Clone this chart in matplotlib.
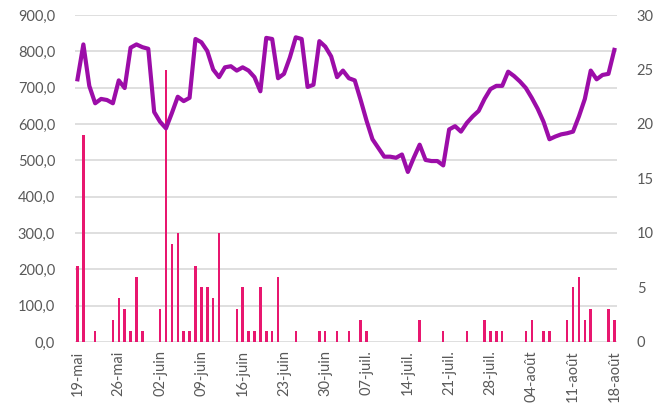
import matplotlib
matplotlib.use('Agg')
import matplotlib.pyplot as plt
import numpy as np
import pandas as pd
from matplotlib.ticker import FuncFormatter, MultipleLocator

plt.rcParams['font.family'] = ['Lato', 'DejaVu Sans']

# daily data, 19 May -> 18 Aug
dates = pd.date_range('2019-05-19', '2019-08-18', freq='D')

# precipitation (left axis), one row per week
rain = [
    210, 570, 0, 30, 0, 0, 60,
    120, 90, 30, 180, 30, 0, 0,
    90, 750, 270, 300, 30, 30, 210,
    150, 150, 120, 300, 0, 0, 90,
    150, 30, 30, 150, 30, 30, 180,
    0, 0, 30, 0, 0, 0, 30,
    30, 0, 30, 0, 30, 0, 60,
    30, 0, 0, 0, 0, 0, 0,
    0, 0, 60, 0, 0, 0, 30,
    0, 0, 0, 30, 0, 0, 60,
    30, 30, 30, 0, 0, 0, 30,
    60, 0, 30, 30, 0, 0, 60,
    150, 180, 60, 90, 0, 0, 90,
    60,
]

# temperature (right axis)
temp = [
    24.1, 27.3, 23.5, 21.9, 22.3, 22.2, 21.9,
    24.0, 23.3, 27.0, 27.3, 27.05, 26.9, 21.1,
    20.2, 19.6, 21.0, 22.5, 22.1, 22.4, 27.8,
    27.5, 26.7, 25.0, 24.3, 25.2, 25.3, 24.9,
    25.2, 24.9, 24.3, 23.0, 27.9, 27.8, 24.2,
    24.6, 26.1, 27.95, 27.8, 23.4, 23.6, 27.6,
    27.1, 26.2, 24.3, 24.9, 24.2, 24.0, 22.2,
    20.3, 18.6, 17.8, 17.0, 17.0, 16.9, 17.2,
    15.6, 16.9, 18.1, 16.7, 16.6, 16.6, 16.2,
    19.5, 19.8, 19.3, 20.1, 20.7, 21.2, 22.3,
    23.2, 23.5, 23.5, 24.8, 24.4, 23.9, 23.3,
    22.4, 21.4, 20.2, 18.6, 18.85, 19.05, 19.15,
    19.3, 20.7, 22.3, 24.9, 24.1, 24.5, 24.6,
    26.8,
]

tick_labels = ['19-mai', '26-mai', '02-juin', '09-juin', '16-juin', '23-juin',
               '30-juin', '07-juil.', '14-juil.', '21-juil.', '28-juil.',
               '04-août', '11-août', '18-août']

label_col = '#595959'
grid_col = '#d9d9d9'

x = np.arange(len(dates))

fig = plt.figure(figsize=(6.69, 4.17), dpi=100)
ax = fig.add_axes([0.1114, 0.18, 0.8113, 0.784])

ax.bar(x, rain, width=0.42, color='#E8176F', zorder=2)
ax.set_ylim(0, 900)
ax.set_xlim(-0.5, len(dates) - 0.5)
ax.yaxis.set_major_locator(MultipleLocator(100))
ax.yaxis.set_major_formatter(FuncFormatter(lambda v, p: f'{v:.1f}'.replace('.', ',')))
ax.grid(axis='y', color=grid_col, linewidth=1.2, zorder=0)
ax.set_axisbelow(True)

ax.set_xticks(x[::7])
ax.set_xticklabels(tick_labels, rotation=90)

ax2 = ax.twinx()
ax2.plot(x, temp, color='#9C0DA8', linewidth=3.0, solid_joinstyle='round', zorder=3)
ax2.set_ylim(0, 30)
ax2.yaxis.set_major_locator(MultipleLocator(5))

for a in (ax, ax2):
    for s in a.spines.values():
        s.set_visible(False)
    a.tick_params(axis='both', length=0, labelsize=10.5, labelcolor=label_col)

ax.tick_params(axis='y', pad=14)
ax2.tick_params(axis='y', pad=14)
ax.tick_params(axis='x', pad=6)

fig.savefig('out.png', dpi=100)
